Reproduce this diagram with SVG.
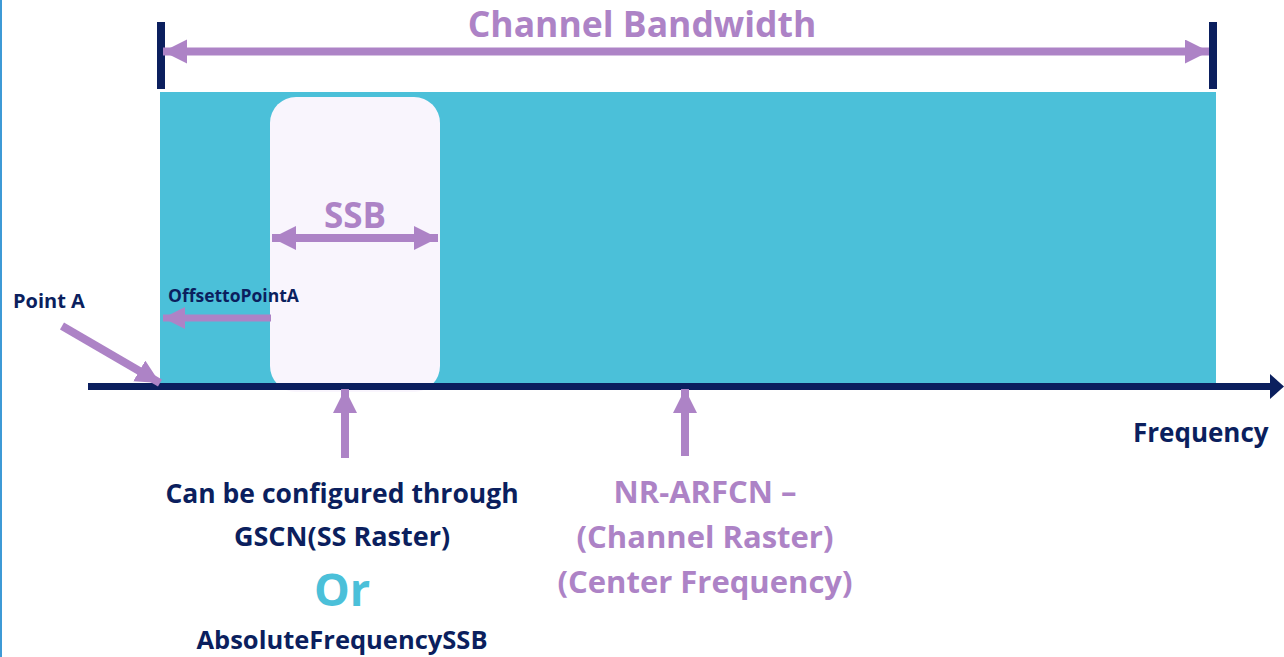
<svg xmlns="http://www.w3.org/2000/svg" width="1284" height="657" viewBox="0 0 1284 657">
<style>
.t{font-family:"Open Sans","Liberation Sans",sans-serif;font-weight:bold}
.navy{fill:#0B1F5E}
.pur{fill:#AD83C6}
.pl{stroke:#AD83C6;fill:none}
</style>
<defs>
<marker id="ah" markerUnits="userSpaceOnUse" markerWidth="26" markerHeight="26" refX="24" refY="12" orient="auto-start-reverse" viewBox="0 0 26 26">
<path d="M0,0 L24,12 L0,24 Z" fill="#AD83C6"/>
</marker>
<marker id="ahs" markerUnits="userSpaceOnUse" markerWidth="24" markerHeight="24" refX="22" refY="11" orient="auto-start-reverse" viewBox="0 0 24 24">
<path d="M0,0 L22,11 L0,22 Z" fill="#AD83C6"/>
</marker>
</defs>
<rect width="1284" height="657" fill="#FFFFFF"/>
<rect x="0" y="0" width="2" height="657" fill="#3E9AD6"/>
<g id="band">
<rect x="160" y="92" width="1056" height="292" fill="#4BC0D9"/>
</g>
<g id="ssb">
<rect x="270" y="97" width="170" height="295" rx="26" fill="#F9F5FD"/>
<text x="355" y="228" class="t pur" font-size="35" text-anchor="middle">SSB</text>
</g>
<g id="bw-ticks">
<rect x="157" y="22" width="8" height="67" fill="#0B1F5E"/>
<rect x="1209" y="22" width="8" height="67" fill="#0B1F5E"/>
</g>
<g id="title">
<text x="642" y="37" class="t pur" font-size="35.5" text-anchor="middle">Channel Bandwidth</text>
</g>
<g id="axis">
<line x1="88" y1="386.5" x2="1272" y2="386.5" stroke="#0B1F5E" stroke-width="7"/>
<path d="M1270,374 L1284,386.5 L1270,399 Z" fill="#0B1F5E"/>
<text x="1133" y="442" class="t navy" font-size="26">Frequency</text>
</g>
<g id="pointA">
<text x="13" y="308" class="t navy" font-size="20">Point A</text>
</g>
<g id="offset">
<text x="168" y="302" class="t navy" font-size="17.5">OffsettoPointA</text>
</g>
<g id="gscn">
<text x="342" y="503" class="t navy" font-size="26.5" text-anchor="middle">Can be configured through</text>
<text x="342" y="546" class="t navy" font-size="27" text-anchor="middle">GSCN(SS Raster)</text>
<text x="342" y="606" class="t" fill="#4BC0D9" font-size="45" text-anchor="middle">Or</text>
<text x="342" y="649" class="t navy" font-size="25.5" text-anchor="middle">AbsoluteFrequencySSB</text>
</g>
<g id="arfcn">
<text x="705" y="503" class="t pur" font-size="31" text-anchor="middle">NR-ARFCN –</text>
<text x="705" y="548" class="t pur" font-size="31" text-anchor="middle">(Channel Raster)</text>
<text x="705" y="593" class="t pur" font-size="31" text-anchor="middle">(Center Frequency)</text>
</g>
<g id="connectors">
<line x1="163" y1="51.5" x2="1209" y2="51.5" class="pl" stroke-width="8" marker-start="url(#ah)" marker-end="url(#ah)"/>
<line x1="272" y1="238" x2="438" y2="238" class="pl" stroke-width="8" marker-start="url(#ah)" marker-end="url(#ah)"/>
<line x1="271" y1="318" x2="163" y2="318" class="pl" stroke-width="7" marker-end="url(#ahs)"/>
<line x1="62" y1="326" x2="160" y2="383" class="pl" stroke-width="8" marker-end="url(#ah)"/>
<line x1="345" y1="458" x2="345" y2="389" class="pl" stroke-width="8" marker-end="url(#ah)"/>
<line x1="685" y1="456" x2="685" y2="389" class="pl" stroke-width="8" marker-end="url(#ah)"/>
</g>
</svg>
